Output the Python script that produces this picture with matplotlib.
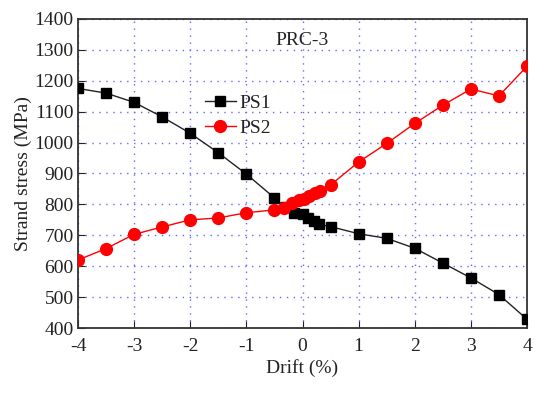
import matplotlib
matplotlib.use("Agg")
import matplotlib.pyplot as plt

plt.rcParams['font.family'] = ['Liberation Serif', 'DejaVu Serif']

ps1_drift = [-4, -3.5, -3, -2.5, -2, -1.5, -1, -0.5, -0.3, -0.15, 0.0, 0.1, 0.2, 0.3, 0.5,
             1, 1.5, 2, 2.5, 3, 3.5, 4]
ps1_stress = [1175, 1160, 1130, 1083, 1030, 967, 898, 821, 790, 771, 770, 756, 745, 735, 728,
              705, 690, 658, 610, 562, 508, 428]

ps2_drift = [-4, -3.5, -3, -2.5, -2, -1.5, -1, -0.5, -0.33, -0.18, -0.07, 0.02, 0.12, 0.22, 0.31, 0.5,
             1, 1.5, 2, 2.5, 3, 3.5, 4]
ps2_stress = [620, 657, 703, 727, 750, 756, 773, 782, 787, 803, 813, 818, 828, 836, 843, 863,
              937, 997, 1062, 1121, 1173, 1151, 1247]

xticks = [-4, -3, -2, -1, 0, 1, 2, 3, 4]
yticks = [400, 500, 600, 700, 800, 900, 1000, 1100, 1200, 1300, 1400]

fig = plt.figure(figsize=(5.34, 3.94), dpi=100)
ax = fig.add_axes([0.146, 0.1675, 0.841, 0.7845])

ax.plot(ps1_drift, ps1_stress, color='#222222', lw=1.0, marker='s', ms=7,
        mfc='black', mec='black', label='PS1', zorder=3)
ax.plot(ps2_drift, ps2_stress, color='red', lw=1.0, marker='o', ms=8.5,
        mfc='red', mec='red', label='PS2', zorder=3)

ax.set_xlim(-4, 4)
ax.set_ylim(400, 1400)
ax.set_xticks(xticks)
ax.set_yticks(yticks)
ax.set_xticklabels([str(t) for t in xticks])
ax.grid(True, color='#6666ff', linestyle=(0, (1, 4)), linewidth=1.0)
ax.tick_params(direction='in', length=5, labelsize=14, colors='#222222')
ax.tick_params(axis='x', pad=7)
ax.tick_params(axis='y', pad=3)
for s in ax.spines.values():
    s.set_linewidth(1.3)
    s.set_color('#333333')

ax.set_xlabel('Drift (%)', fontsize=14, color='#222222', labelpad=3)
ax.set_ylabel('Strand stress (MPa)', fontsize=14, color='#222222', labelpad=2)
ax.text(0.5, 0.93, 'PRC-3', transform=ax.transAxes, ha='center', va='center',
        fontsize=14, color='#222222')

leg = ax.legend(loc='upper left', bbox_to_anchor=(0.265, 0.78), frameon=False,
                fontsize=14, handlelength=1.6, handletextpad=0.2, labelspacing=0.35,
                borderaxespad=0)
for t in leg.get_texts():
    t.set_color('#222222')

fig.savefig('out.png', dpi=100)
